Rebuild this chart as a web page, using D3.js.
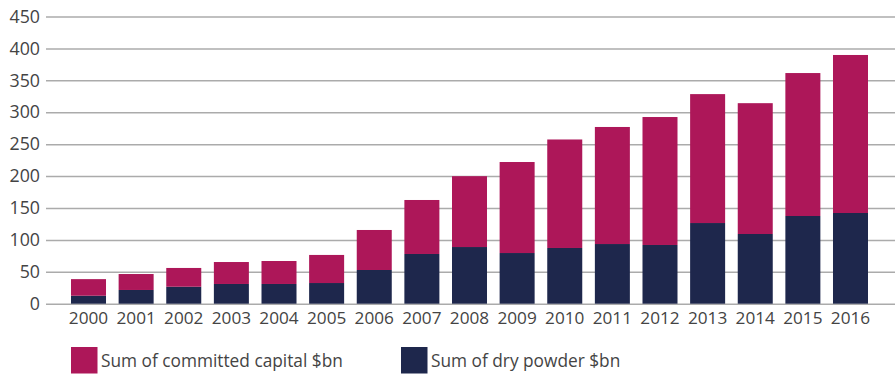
<!DOCTYPE html>
<html>
<head>
<meta charset="utf-8">
<script src="https://cdn.jsdelivr.net/npm/d3@7/dist/d3.min.js"></script>
<style>
  html, body { margin: 0; padding: 0; background: #fff; }
  svg { display: block; }
  text { font-family: "Open Sans", sans-serif; fill: #444; }
</style>
</head>
<body>
<svg id="chart" width="895" height="376"></svg>
<script>
// Years on the x axis
const years = ["2000","2001","2002","2003","2004","2005","2006","2007","2008",
               "2009","2010","2011","2012","2013","2014","2015","2016"];
// Dry powder ($bn), bottom segment
const dryPowder = [12.5, 21.5, 26.6, 30.9, 30.9, 32.4, 52.8, 77.9, 88.8,
                   79.4, 87.3, 93.5, 92, 126.4, 109.2, 137.4, 142.1];
// Committed capital ($bn), stacked on top
const committed = [26, 25, 29.4, 34.4, 36, 44, 62.7, 84.6, 111,
                   142.6, 170, 183.4, 200.5, 202, 205, 224, 247.6];
// Y axis tick values
const yTicks = [0, 50, 100, 150, 200, 250, 300, 350, 400, 450];

const seriesNames = ["Sum of committed capital $bn", "Sum of dry powder $bn"];
const colors = { committed: "#AD1759", dry: "#1E274C" };

const svg = d3.select("#chart");

const x = d3.scaleBand()
  .domain(years)
  .range([45, 894])
  .paddingInner(0.265)
  .paddingOuter(0.546);

const y = d3.scaleLinear()
  .domain([0, 450])
  .range([303.7, 16.5]);

// Horizontal gridlines + y labels
const yAxis = d3.axisLeft(y)
  .tickValues(yTicks)
  .tickSize(-(895 - 46))
  .tickPadding(6);

const gy = svg.append("g")
  .attr("transform", "translate(46,0)")
  .call(yAxis);
gy.select(".domain").remove();
gy.selectAll(".tick line")
  .attr("stroke", "#ABABAB")
  .attr("stroke-width", 1.5);
gy.selectAll(".tick text")
  .attr("font-size", 17.8)
  .attr("fill", "#444");

const rows = years.map((yr, i) => ({ year: yr, dry: dryPowder[i], committed: committed[i] }));
const stack = d3.stack().keys(["dry", "committed"]);
const layers = stack(rows);

svg.append("g")
  .selectAll("g")
  .data(layers)
  .join("g")
  .attr("fill", d => colors[d.key])
  .selectAll("rect")
  .data(d => d)
  .join("rect")
  .attr("x", d => x(d.data.year))
  .attr("width", x.bandwidth())
  .attr("y", d => y(d[1]))
  .attr("height", d => y(d[0]) - y(d[1]));

// X axis labels
const xAxis = d3.axisBottom(x).tickSize(0).tickPadding(8);
const gx = svg.append("g")
  .attr("transform", "translate(0,303.7)")
  .call(xAxis);
gx.select(".domain").remove();
gx.selectAll(".tick text")
  .attr("font-size", 17.2)
  .attr("fill", "#444");

// Legend
const legendItems = [
  { name: seriesNames[0], color: colors.committed, x: 71 },
  { name: seriesNames[1], color: colors.dry, x: 401 }
];
const lg = svg.append("g").selectAll("g")
  .data(legendItems)
  .join("g")
  .attr("transform", d => `translate(${d.x},347)`);
lg.append("rect")
  .attr("width", 26.5)
  .attr("height", 26.5)
  .attr("fill", d => d.color);
lg.append("text")
  .attr("x", 30)
  .attr("y", 14)
  .attr("dy", "0.35em")
  .attr("font-size", 17.3)
  .text(d => d.name);
</script>
</body>
</html>
